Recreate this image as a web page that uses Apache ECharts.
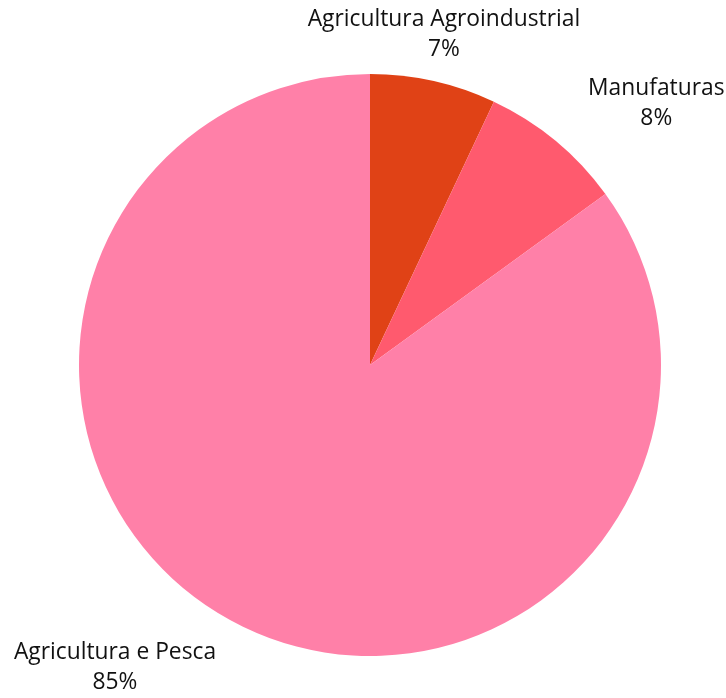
<!DOCTYPE html>
<html><head><meta charset="utf-8">
<script src="https://cdn.jsdelivr.net/npm/echarts@6/dist/echarts.min.js"></script>
<style>html,body{margin:0;padding:0;background:#fff}#c{width:726px;height:698px}</style>
</head><body><div id="c"></div>
<script>
const categories = ['Agricultura Agroindustrial', 'Manufaturas', 'Agricultura e Pesca'];
const values = [7, 8, 85];
const colors = ['#E04216', '#FF5A6E', '#FF80A8'];

const chart = echarts.init(document.getElementById('c'), null, {renderer: 'canvas'});
chart.setOption({
  animation: false,
  series: [{
    type: 'pie',
    center: [370, 365],
    radius: [0, 291],
    startAngle: 90,
    clockwise: true,
    avoidLabelOverlap: false,
    data: categories.map((n, i) => ({name: n, value: values[i], itemStyle: {color: colors[i]}})),
    itemStyle: {borderWidth: 0},
    emphasis: {disabled: true},
    label: {
      show: true,
      position: 'outside',
      formatter: '{b}\n{d}%',
      fontFamily: 'Open Sans',
      fontSize: 22.8,
      lineHeight: 30,
      color: '#111',
      distanceToLabelLine: 0
    },
    labelLine: {show: false, length: 48, length2: 0},
    labelLayout: function (p) {
      const r = p.labelRect;
      if (p.dataIndex === 0) return {align: 'center'};
      if (p.labelRect.x > 370) return {align: 'center', dx: r.width / 2 + 2};
      return {align: 'center', dx: -r.width / 2};
    }
  }]
});
</script></body></html>
